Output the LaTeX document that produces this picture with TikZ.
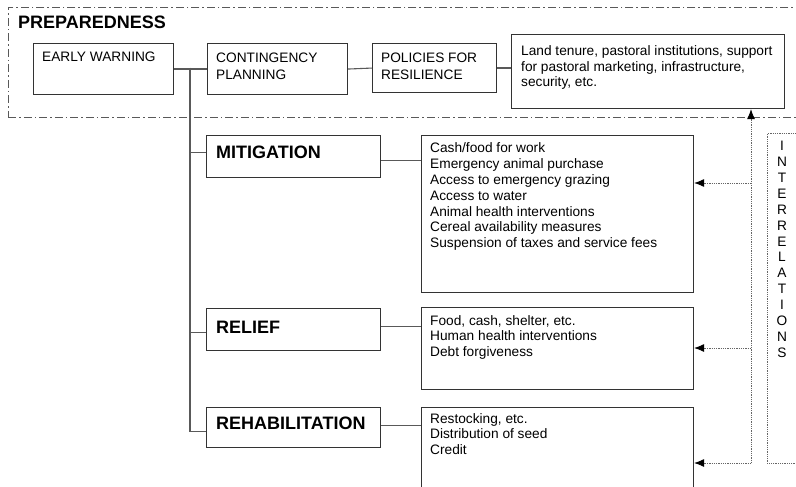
\documentclass[tikz,border=0pt]{standalone}
\usepackage{fontspec}
\setmainfont{Liberation Sans}
\usetikzlibrary{arrows.meta}
\newcommand{\mylines}[1]{\parbox[t]{300pt}{\raggedright #1}}
\begin{document}
\begin{tikzpicture}[x=1pt,y=-1pt,
  box/.style={draw=black!80, line width=1.1pt, inner sep=0pt, anchor=north west},
  txt/.style={inner sep=0pt, anchor=base west, font=\fontsize{13.7}{15.8}\selectfont},
  txtb/.style={txt, font=\fontsize{13.7}{16.6}\selectfont},
  head/.style={inner sep=0pt, anchor=base west, font=\fontsize{18}{20}\selectfont\bfseries},
  conn/.style={draw=black!65, line width=1.1pt},
  dashdot/.style={draw=black!65, line width=0.9pt, dash pattern=on 8pt off 3pt on 1.5pt off 3pt},
  rel/.style={draw=black!60, line width=0.9pt, dash pattern=on 1pt off 0.8pt},
  relarr/.style={rel, -{Latex[length=10pt,width=8pt,color=black]}},
  relbox/.style={rel, inner sep=0pt, anchor=north west},
  letters/.style={inner sep=0pt, anchor=north, align=center, font=\fontsize{13.7}{15.9}\selectfont}
]
\useasboundingbox (0,0) rectangle (796,487);
\clip (0,0) rectangle (796,487);

% preparedness frame
\node[dashdot, inner sep=0pt, anchor=north west, minimum width=800pt, minimum height=110pt] (prepframe) at (8,7) {};
\node[head] (prep) at (18,29) {PREPAREDNESS};

% preparedness boxes
\node[box, minimum width=140pt, minimum height=51pt] (ew) at (33,43) {};
\node[txt] (ewt) at (42,62) {EARLY WARNING};
\node[box, minimum width=140pt, minimum height=51pt] (cp) at (207,43) {};
\node[txtb] (cpt) at (216,63) {\mylines{CONTINGENCY\\PLANNING}};
\node[box, minimum width=124pt, minimum height=49pt] (pol) at (372,43) {};
\node[txtb] (polt) at (381,63) {\mylines{POLICIES FOR\\RESILIENCE}};
\node[box, minimum width=273pt, minimum height=74pt] (land) at (511,34) {};
\node[txt, font=\fontsize{13.7}{15.5}\selectfont] (landt) at (521,56) {\mylines{Land tenure, pastoral institutions, support\\for pastoral marketing, infrastructure,\\security, etc.}};

% response boxes
\node[box, minimum width=174pt, minimum height=42pt] (mit) at (206,135) {};
\node[head] (mitt) at (216,158) {MITIGATION};
\node[box, minimum width=272pt, minimum height=157pt] (mitl) at (421,135) {};
\node[txt] (mitlt) at (430,153) {\mylines{Cash/food for work\\Emergency animal purchase\\Access to emergency grazing\\Access to water\\Animal health interventions\\Cereal availability measures\\Suspension of taxes and service fees}};

\node[box, minimum width=174pt, minimum height=42pt] (rel) at (206,308) {};
\node[head] (relt) at (216,333) {RELIEF};
\node[box, minimum width=272pt, minimum height=82pt] (rell) at (421,307) {};
\node[txt] (rellt) at (430,325) {\mylines{Food, cash, shelter, etc.\\Human health interventions\\Debt forgiveness}};

\node[box, minimum width=174pt, minimum height=40pt] (reh) at (206,407) {};
\node[head] (reht) at (216,429) {REHABILITATION};
\node[box, minimum width=272pt, minimum height=110pt] (rehl) at (421,407) {};
\node[txt] (rehlt) at (430,423) {\mylines{Restocking, etc.\\Distribution of seed\\Credit}};

% connectors
\coordinate (j) at (190,68);
\draw[conn] (ew.east) -- (cp.west);
\draw[conn] (cp.east) -- (pol.west);
\draw[conn] (pol.east) -- (pol.east -| land.west);
\draw[conn] (j) |- ([yshift=4pt]mit.west);
\draw[conn] (j) |- ([yshift=-3pt]rel.west);
\draw[conn] (j) |- ([yshift=-4pt]reh.west);
\draw[conn] ([yshift=-4pt]mit.east) -- ([yshift=-4pt]mit.east -| mitl.west);
\draw[conn] ([yshift=3pt]rel.east) -- ([yshift=3pt]rel.east -| rell.west);
\draw[conn] ([yshift=2pt]reh.east) -- ([yshift=2pt]reh.east -| rehl.west);

% interrelations
\node[relbox, minimum width=40pt, minimum height=330pt] (ibox) at (767,133) {};
\node[letters] (itxt) at (782,141) {I\\N\\T\\E\\R\\R\\E\\L\\A\\T\\I\\O\\N\\S};
\coordinate (ib) at (751,463);
\coordinate (im) at (751,183);
\coordinate (ir) at (751,348);
\draw[relarr] (ib) -- (ib |- land.south);
\draw[relarr] (im) -- (im -| mitl.east);
\draw[relarr] (ir) -- (ir -| rell.east);
\draw[relarr] (ib) -- (ib -| rehl.east);
\end{tikzpicture}
\end{document}
